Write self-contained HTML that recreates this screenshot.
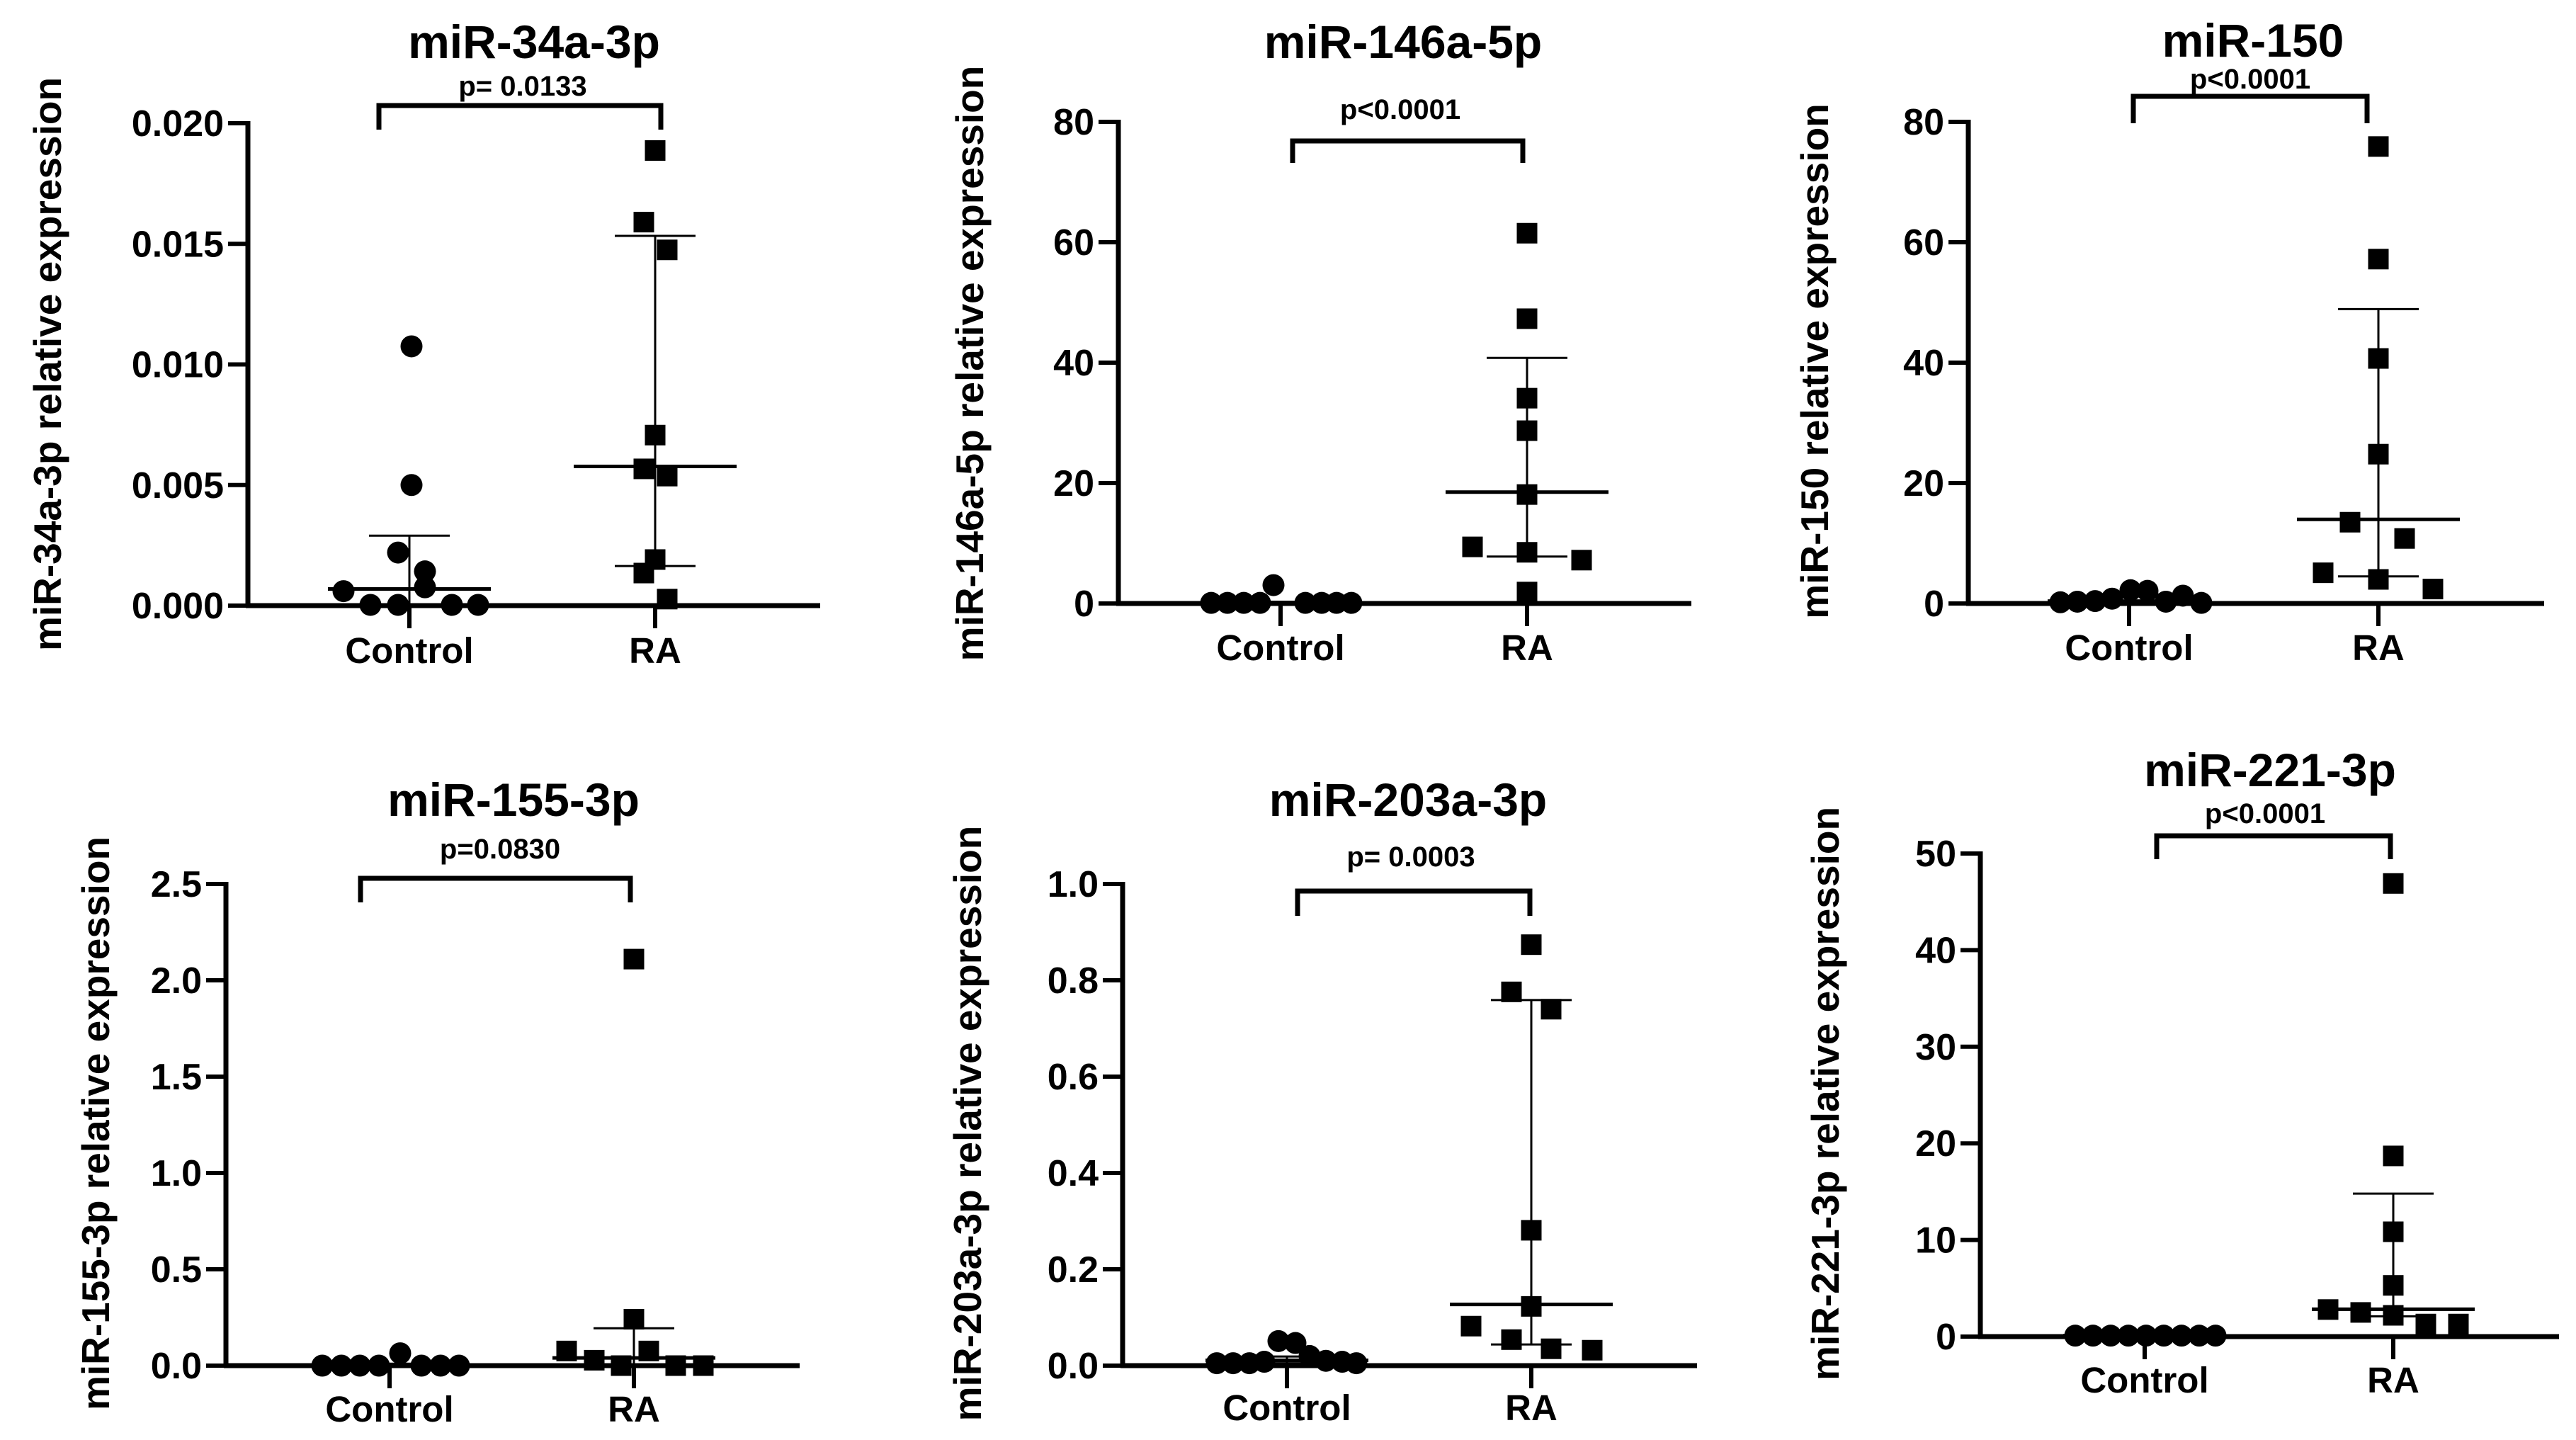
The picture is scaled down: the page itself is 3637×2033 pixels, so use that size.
<!DOCTYPE html>
<html><head><meta charset="utf-8"><style>
html,body{margin:0;padding:0;background:#fff}
svg{display:block}
text{font-family:"Liberation Sans",Arial,sans-serif;font-weight:bold;fill:#000}
</style></head><body>
<svg id="fig" width="3637" height="2033" viewBox="0 0 3637 2033" xmlns="http://www.w3.org/2000/svg"></svg>
<script>
const categories=["Control","RA"];
const p1Control=[0.01075,0.0050,0.0022,0.00142,0.00076,0.0006,0.00003,0.00003,0.00003,0.00003];
const p1RA=[0.01887,0.0159,0.01475,0.00707,0.00567,0.00537,0.00191,0.00135,0.00027];
const p1CtrlStats=[0.00069,0.0029,0.0];
const p1RAStats=[0.00577,0.01533,0.00164];
const p1Ticks=[0,0.005,0.010,0.015,0.020];
const p1TickLabels=["0.000","0.005","0.010","0.015","0.020"];
const p2Control=[0.1,0.1,0.1,0.1,3.05,0.1,0.1,0.1,0.1];
const p2RA=[61.5,47.3,34.1,28.7,18.1,9.4,8.5,7.2,1.9];
const p2CtrlStats=[0.1,0.3,0];
const p2RAStats=[18.5,40.8,7.8];
const p2Ticks=[0,20,40,60,80];
const p2TickLabels=["0","20","40","60","80"];
const p3Control=[0.2,0.3,0.4,0.8,2.2,2.1,0.3,1.3,0.1];
const p3RA=[75.9,57.2,40.7,24.8,13.5,10.8,5.1,4.0,2.4];
const p3CtrlStats=[0.4,1.5,0.1];
const p3RAStats=[13.97,48.9,4.5];
const p3Ticks=[0,20,40,60,80];
const p3TickLabels=["0","20","40","60","80"];
const p4Control=[0,0,0,0,0.064,0,0,0];
const p4RA=[2.11,0.241,0.076,0.028,0.076,0.0,0.0,0.0];
const p4CtrlStats=[0,0.01,0];
const p4RAStats=[0.04,0.194,0.0];
const p4Ticks=[0,0.5,1.0,1.5,2.0,2.5];
const p4TickLabels=["0.0","0.5","1.0","1.5","2.0","2.5"];
const p5Control=[0.005,0.005,0.005,0.008,0.051,0.047,0.02,0.01,0.008,0.005];
const p5RA=[0.874,0.776,0.74,0.281,0.123,0.082,0.054,0.035,0.032];
const p5CtrlStats=[0.011,0.019,0.005];
const p5RAStats=[0.127,0.759,0.044];
const p5Ticks=[0,0.2,0.4,0.6,0.8,1.0];
const p5TickLabels=["0.0","0.2","0.4","0.6","0.8","1.0"];
const p6Control=[0.1,0.1,0.1,0.1,0.1,0.1,0.1,0.1,0.1];
const p6RA=[46.9,18.7,10.85,5.3,2.8,2.5,2.2,1.3,1.3];
const p6CtrlStats=[0.1,0.1,0.1];
const p6RAStats=[2.83,14.8,2.1];
const p6Ticks=[0,10,20,30,40,50];
const p6TickLabels=["0","10","20","30","40","50"];

// jitter offsets (px) of each marker from its category centre
const p1CtrlJ=[3,3,-16,22,22,-93,-55,-16,60,97], p1RAJ=[0,-16,17,0,-16,17,0,-16,17];
const p2CtrlJ=[-98,-75,-52,-29,-10,35,58,79,100], p2RAJ=[0,0,0,0,0,-77,0,77,0];
const p3CtrlJ=[-97,-73,-48,-24,2,26,52,76,102], p3RAJ=[0,0,0,0,-40,37,-78,0,77];
const p4CtrlJ=[-95,-68,-42,-15,15,45,72,98], p4RAJ=[0,0,-95,-56,21,-18,59,98];
const p5CtrlJ=[-99,-76,-53,-32,-12,12,32,55,78,98], p5RAJ=[0,-28,28,0,0,-85,-28,28,86];
const p6CtrlJ=[-98,-73,-48,-23,2,27,52,77,100], p6RAJ=[0,0,0,0,-92,-46,0,46,92];

const NS="http://www.w3.org/2000/svg";
const svg=document.getElementById('fig');
function mk(tag,attrs,parent){const e=document.createElementNS(NS,tag);for(const k in attrs)e.setAttribute(k,attrs[k]);(parent||svg).appendChild(e);return e;}

const panels=[
 {id:'p1',title:'miR-34a-3p',ylabel:'miR-34a-3p relative expression',p:'p= 0.0133',ax:350,top:174,zero:855,xend:1158,cx:578,rx:925,max:0.02,ticks:p1Ticks,labels:p1TickLabels,ctrl:p1Control,ra:p1RA,cj:p1CtrlJ,rj:p1RAJ,cs:p1CtrlStats,rs:p1RAStats,tx:754,ty:82,ylx:86,yly:514,px:738,py:135,bry:149,brx1:535,brx2:933,bre:183,caty:936},
 {id:'p2',title:'miR-146a-5p',ylabel:'miR-146a-5p relative expression',p:'p<0.0001',ax:1579,top:172,zero:852,xend:2388,cx:1808,rx:2156,max:80,ticks:p2Ticks,labels:p2TickLabels,ctrl:p2Control,ra:p2RA,cj:p2CtrlJ,rj:p2RAJ,cs:p2CtrlStats,rs:p2RAStats,tx:1981,ty:82,ylx:1388,yly:513,px:1977,py:168,bry:199,brx1:1825,brx2:2150,bre:230,caty:932},
 {id:'p3',title:'miR-150',ylabel:'miR-150 relative expression',p:'p<0.0001',ax:2779,top:172,zero:852,xend:3592,cx:3006,rx:3358,max:80,ticks:p3Ticks,labels:p3TickLabels,ctrl:p3Control,ra:p3RA,cj:p3CtrlJ,rj:p3RAJ,cs:p3CtrlStats,rs:p3RAStats,tx:3181,ty:80,ylx:2581,yly:510,px:3177,py:125,bry:136,brx1:3012,brx2:3342,bre:174,caty:932},
 {id:'p4',title:'miR-155-3p',ylabel:'miR-155-3p relative expression',p:'p=0.0830',ax:319,top:1248,zero:1928,xend:1129,cx:550,rx:895,max:2.5,ticks:p4Ticks,labels:p4TickLabels,ctrl:p4Control,ra:p4RA,cj:p4CtrlJ,rj:p4RAJ,cs:p4CtrlStats,rs:p4RAStats,tx:725,ty:1152,ylx:154,yly:1586,px:706,py:1212,bry:1240,brx1:509,brx2:890,bre:1274,caty:2007},
 {id:'p5',title:'miR-203a-3p',ylabel:'miR-203a-3p relative expression',p:'p= 0.0003',ax:1585,top:1248,zero:1928,xend:2396,cx:1817,rx:2162,max:1.0,ticks:p5Ticks,labels:p5TickLabels,ctrl:p5Control,ra:p5RA,cj:p5CtrlJ,rj:p5RAJ,cs:p5CtrlStats,rs:p5RAStats,tx:1988,ty:1152,ylx:1385,yly:1586,px:1992,py:1223,bry:1258,brx1:1832,brx2:2160,bre:1293,caty:2005},
 {id:'p6',title:'miR-221-3p',ylabel:'miR-221-3p relative expression',p:'p<0.0001',ax:2796,top:1205,zero:1887,xend:3613,cx:3028,rx:3379,max:50,ticks:p6Ticks,labels:p6TickLabels,ctrl:p6Control,ra:p6RA,cj:p6CtrlJ,rj:p6RAJ,cs:p6CtrlStats,rs:p6RAStats,tx:3205,ty:1110,ylx:2596,yly:1544,px:3198,py:1162,bry:1180,brx1:3045,brx2:3375,bre:1213,caty:1966}
];

panels.forEach(P=>{
  const g=mk('g',{});
  
  
  const y=v=>P.zero-(v/P.max)*(P.zero-P.top);
  // title
  const t=mk('text',{x:P.tx,y:P.ty,'font-size':66,'text-anchor':'middle'},g);t.textContent=P.title;
  
  
  // y label
  const yl=mk('text',{transform:`translate(${P.ylx},${P.yly}) rotate(-90)`,'font-size':55,'text-anchor':'middle'},g);yl.textContent=P.ylabel;
  
  
  // axes
  const ya=mk('line',{x1:P.ax,y1:P.top-3,x2:P.ax,y2:P.zero+3,stroke:'#000','stroke-width':7},g);
  
  
  const xa=mk('line',{x1:P.ax-3,y1:P.zero,x2:P.xend,y2:P.zero,stroke:'#000','stroke-width':7},g);
  
  
  P.ticks.forEach((v,i)=>{
    const yy=y(v);
    const tk=mk('line',{x1:P.ax-28,y1:yy,x2:P.ax,y2:yy,stroke:'#000','stroke-width':6},g);
    
    
    const tl=mk('text',{x:P.ax-34,y:yy+18,'font-size':52,'text-anchor':'end'},g);tl.textContent=P.labels[i];
    
    
  });
  [P.cx,P.rx].forEach((xx,i)=>{
    const tk=mk('line',{x1:xx,y1:P.zero,x2:xx,y2:P.zero+32,stroke:'#000','stroke-width':6},g);
    
    
    const cl=mk('text',{x:xx,y:P.caty,'font-size':51,'text-anchor':'middle'},g);cl.textContent=categories[i];
    
    
  });
  // bracket
  const br=mk('path',{d:`M${P.brx1},${P.bre} V${P.bry} H${P.brx2} V${P.bre}`,fill:'none',stroke:'#000','stroke-width':7},g);
  
  
  const pt=mk('text',{x:P.px,y:P.py,'font-size':40,'text-anchor':'middle'},g);pt.textContent=P.p;
  
  
  // stats
  [[P.cx,P.cs,'control'],[P.rx,P.rs,'ra']].forEach(([xx,s,nm])=>{
    const v=mk('line',{x1:xx,y1:y(s[1]),x2:xx,y2:y(s[2]),stroke:'#000','stroke-width':3},g);
    
    
    const m=mk('line',{x1:xx-115,y1:y(s[0]),x2:xx+115,y2:y(s[0]),stroke:'#000','stroke-width':5},g);
    
    
    [s[1],s[2]].forEach(w=>{
      const c=mk('line',{x1:xx-57,y1:y(w),x2:xx+57,y2:y(w),stroke:'#000','stroke-width':3},g);
      
      
    });
  });
  // points
  P.ctrl.forEach((v,i)=>{
    const c=mk('circle',{cx:P.cx+P.cj[i],cy:y(v),r:15.5,fill:'#000'},g);
    
    
  });
  P.ra.forEach((v,i)=>{
    const r=mk('rect',{x:P.rx+P.rj[i]-14.5,y:y(v)-14.5,width:29,height:29,fill:'#000'},g);
    
    
  });
});
</script>
</body></html>
